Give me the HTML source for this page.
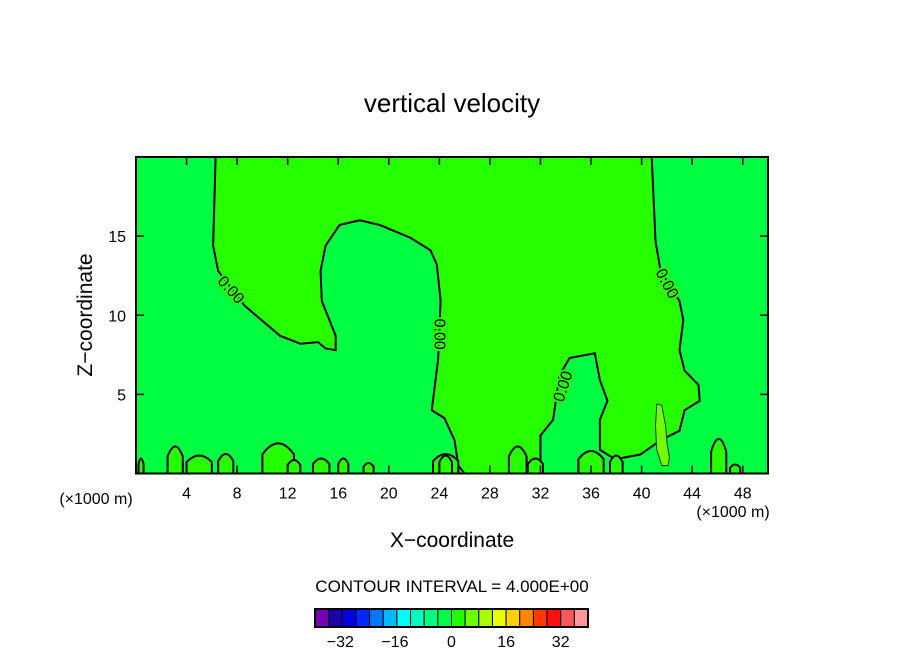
<!DOCTYPE html>
<html><head><meta charset="utf-8"><style>
body{margin:0;background:#fff;}
svg{display:block;font-family:"Liberation Sans",sans-serif;}
</style></head><body>
<svg id="chart" width="904" height="654" viewBox="0 0 904 654" xmlns="http://www.w3.org/2000/svg">
<rect width="904" height="654" fill="#fff"/>
<text x="452" y="112" font-size="26" text-anchor="middle">vertical velocity</text>
<g id="plot"></g>
<text x="452" y="547" font-size="21" text-anchor="middle">X−coordinate</text>
<text transform="translate(92,315) rotate(-90)" font-size="21" text-anchor="middle">Z−coordinate</text>
<text x="96" y="504" font-size="16" text-anchor="middle">(×1000 m)</text>
<text x="733" y="517" font-size="16" text-anchor="middle">(×1000 m)</text>
<text x="452" y="592" font-size="17" text-anchor="middle">CONTOUR INTERVAL = 4.000E+00</text>
<g id="cbar"></g>
</svg>
<script>
const xTicks=[4,8,12,16,20,24,28,32,36,40,44,48];
const yTicks=[5,10,15];
const contourX=[6.3,6.1,6.5,8.6,11.4,13.0,14.4,15.0,15.8,15.8,15.3,14.7,14.6,15.0,16.1,17.7,19.3,21.7,23.3,23.8,24.1,23.9,23.4,24.4,25.2,25.5,26.0,32.0,32.0,33.0,33.5,34.3,36.3,36.7,37.3,36.7,36.7,37.9,39.9,41.5,43.0,43.4,44.6,44.5,43.4,43.0,43.3,43.0,41.5,41.1,40.8];
const contourZ=[20,14.4,12.8,10.6,8.7,8.2,8.3,7.9,7.8,8.7,9.7,10.9,12.8,14.4,15.7,16.0,15.7,14.9,14.1,13.2,10.9,7.2,4.0,3.5,2.1,0.5,0,0,2.4,3.4,6.2,7.3,7.6,5.9,4.6,3.4,1.5,0.9,1.2,2.1,2.7,4.0,4.6,5.6,6.5,7.8,9.7,10.9,12.8,14.7,20];
const patchX=[41.2,41.6,41.9,42.0,42.2,42.1,41.6,41.2,41.1];
const patchZ=[4.4,4.3,3.0,2.0,1.0,0.5,0.5,1.5,3.0];
const blobX=[0.2,2.5,4.0,6.5,10.0,12.0,14.0,16.0,18.0,23.5,24.0,29.5,31.0,35.0,37.5,45.5,47.0];
const blobW=[0.4,1.2,2.0,1.2,2.5,1.0,1.3,0.8,0.8,2.0,1.0,1.4,1.2,2.0,1.0,1.2,0.8];
const blobH=[1.0,1.8,1.2,1.3,2.0,0.9,1.0,1.0,0.7,1.3,1.2,1.8,1.0,1.5,1.2,2.3,0.6];
const labelX=[7.5,24.0,33.8,42.0];
const labelZ=[11.6,8.8,5.5,12.0];
const labelRot=[48,90,-72,62];
const cbColors=["#7800b0","#1c00a8","#0000e0","#0028ff","#0078ff","#00b8ff","#00ffff","#00ffc0","#00ff80","#00ff48","#20ff00","#70ff00","#a8ff00","#e8ff00","#ffd000","#ff8800","#ff3800","#ff1010","#ff5858","#ff9898"];
const cbLabels=[-32,-16,0,16,32];

const NS="http://www.w3.org/2000/svg";
const X0=136,X1=768,Y0=473.5,Y1=157;
const sx=v=>X0+(v/50)*(X1-X0), sy=v=>Y0-(v/20)*(Y0-Y1);
const plot=document.getElementById('plot');
function mk(t,a,p){const e=document.createElementNS(NS,t);for(const k in a)e.setAttribute(k,a[k]);(p||plot).appendChild(e);return e;}
let bg=mk('rect',{x:X0,y:Y1,width:X1-X0,height:Y0-Y1,fill:'#00ff40'});


let pts=contourX.map((x,i)=>sx(x)+','+sy(contourZ[i])).join(' ');
let reg=mk('polygon',{points:pts,fill:'#26ff00',stroke:'none'});


let line=mk('polyline',{points:pts,fill:'none',stroke:'#000','stroke-width':2});


for(let i=0;i<blobX.length;i++){
  const x=sx(blobX[i]),w=blobW[i]*(X1-X0)/50,h=blobH[i]*(Y0-Y1)/20;
  const b=mk('path',{d:`M${x} ${Y0} L${x} ${Y0-h*0.6} Q${x+w/2} ${Y0-h*1.3} ${x+w} ${Y0-h*0.6} L${x+w} ${Y0}`,fill:'#26ff00',stroke:'#000','stroke-width':2});
  
  
}
let pp=mk('polygon',{points:patchX.map((x,i)=>sx(x)+','+sy(patchZ[i])).join(' '),fill:'#70ff00',stroke:'#333','stroke-width':1});


for(let i=0;i<labelX.length;i++){
  const x=sx(labelX[i]),y=sy(labelZ[i]);
  const t=mk('text',{x:x,y:y+5,'font-size':16,'text-anchor':'middle',transform:`rotate(${labelRot[i]} ${x} ${y})`,fill:'#000',stroke:'#26ff00','stroke-width':4,'paint-order':'stroke'});
  t.textContent='0.00';
  
  
}
let fr=mk('rect',{x:X0,y:Y1,width:X1-X0,height:Y0-Y1,fill:'none',stroke:'#000','stroke-width':2});


xTicks.forEach(v=>{
  const x=sx(v);
  const a=mk('line',{x1:x,x2:x,y1:Y0,y2:Y0-8,stroke:'#000','stroke-width':1.5});
  
  
  const b=mk('line',{x1:x,x2:x,y1:Y1,y2:Y1+8,stroke:'#000','stroke-width':1.5});
  
  
  const t=mk('text',{x:x,y:Y0+25,'font-size':16,'text-anchor':'middle'});
  t.textContent=v;
  
  
});
yTicks.forEach(v=>{
  const y=sy(v);
  const a=mk('line',{x1:X0,x2:X0+8,y1:y,y2:y,stroke:'#000','stroke-width':1.5});
  
  
  const b=mk('line',{x1:X1,x2:X1-8,y1:y,y2:y,stroke:'#000','stroke-width':1.5});
  
  
  const t=mk('text',{x:X0-10,y:y+6,'font-size':16,'text-anchor':'end'});
  t.textContent=v;
  
  
});
const cb=document.getElementById('cbar');
const CB0=315,CB1=588,CBY=609,CBH=18,bw=(CB1-CB0)/cbColors.length;
cbColors.forEach((c,i)=>{
  const r=mk('rect',{x:CB0+i*bw,y:CBY,width:bw,height:CBH,fill:c,stroke:'#000','stroke-width':1},cb);
  
  
});
let cf=mk('rect',{x:CB0,y:CBY,width:CB1-CB0,height:CBH,fill:'none',stroke:'#000','stroke-width':2},cb);


cbLabels.forEach(v=>{
  const x=CB0+(v+40)/80*(CB1-CB0);
  const t=mk('text',{x:x+(v<0?-2:0),y:647,'font-size':16,'text-anchor':'middle'},cb);
  t.textContent=v<0?'−'+(-v):String(v);
  
  
});
</script>
</body></html>
